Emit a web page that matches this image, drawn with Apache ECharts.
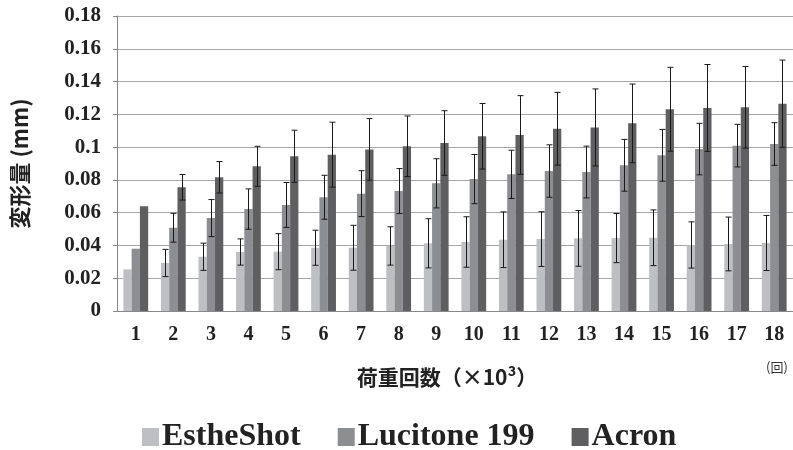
<!DOCTYPE html>
<html>
<head>
<meta charset="utf-8">
<script src="https://cdn.jsdelivr.net/npm/echarts@6/dist/echarts.min.js"></script>
<style>html,body{margin:0;padding:0;background:#fff;}#c{width:793px;height:450px;}</style>
</head>
<body>
<div id="c"></div>
<script>
var categories = ['1','2','3','4','5','6','7','8','9','10','11','12','13','14','15','16','17','18'];
var seriesNames = ['EstheShot', 'Lucitone 199', 'Acron'];
var estheShot = [0.0254,0.0293,0.0331,0.0360,0.0362,0.0386,0.0386,0.0397,0.0413,0.0421,0.0435,0.0439,0.0443,0.0445,0.0447,0.0403,0.0409,0.0415];
var estheShotErr = [0,0.0083,0.0083,0.0080,0.0110,0.0107,0.0137,0.0117,0.0150,0.0154,0.0170,0.0167,0.0170,0.0150,0.0170,0.0141,0.0164,0.0168];
var lucitone = [0.0380,0.0508,0.0567,0.0622,0.0647,0.0694,0.0716,0.0732,0.0779,0.0805,0.0834,0.0854,0.0848,0.0889,0.0950,0.0988,0.1009,0.1019];
var lucitoneErr = [0,0.0088,0.0113,0.0123,0.0137,0.0134,0.0140,0.0137,0.0150,0.0150,0.0147,0.0160,0.0158,0.0158,0.0158,0.0157,0.0130,0.0130];
var acron = [0.0639,0.0755,0.0816,0.0883,0.0944,0.0954,0.0986,0.1005,0.1025,0.1066,0.1074,0.1112,0.1120,0.1145,0.1231,0.1239,0.1243,0.1265];
var acronErr = [0,0.0078,0.0096,0.0122,0.0159,0.0198,0.0188,0.0185,0.0197,0.0200,0.0240,0.0222,0.0235,0.0240,0.0256,0.0265,0.0249,0.0266];
var yTicks = { min: 0, max: 0.18, interval: 0.02 };

var colors = ['#bebfc3', '#8d8e92', '#5f5f61'];
var values = [estheShot, lucitone, acron];
var errors = [estheShotErr, lucitoneErr, acronErr];
var BAR_FRAC = 0.22;

function errSeries(idx) {
  var data = categories.map(function (c, i) { return [i, values[idx][i], errors[idx][i]]; });
  return {
    type: 'custom',
    z: 10,
    silent: true,
    data: data,
    encode: { x: 0, y: 1 },
    renderItem: function (params, api) {
      var e = api.value(2);
      if (!e) return null;
      var x = api.value(0), v = api.value(1);
      var band = api.size([1, 0])[0];
      var off = (idx - 1) * BAR_FRAC * band;
      var hi = api.coord([x, v + e]);
      var lo = api.coord([x, v - e]);
      var cx = Math.round(hi[0] + off) + 0.5;
      var st = { stroke: '#1a1a1a', lineWidth: 1 };
      return {
        type: 'group',
        children: [
          { type: 'line', shape: { x1: cx, y1: hi[1], x2: cx, y2: lo[1] }, style: st },
          { type: 'line', shape: { x1: cx - 3, y1: hi[1], x2: cx + 3, y2: hi[1] }, style: st },
          { type: 'line', shape: { x1: cx - 3, y1: lo[1], x2: cx + 3, y2: lo[1] }, style: st }
        ]
      };
    }
  };
}

var series = [];
seriesNames.forEach(function (n, i) {
  series.push({
    name: n, type: 'bar', data: values[i],
    barWidth: (BAR_FRAC * 100) + '%', barGap: '0%',
    itemStyle: { color: colors[i] }
  });
});
seriesNames.forEach(function (n, i) { series.push(errSeries(i)); });

var chart = echarts.init(document.getElementById('c'), null, { renderer: 'canvas' });
chart.setOption({
  animation: false,
  backgroundColor: '#ffffff',
  grid: { left: 117, right: 0, top: 16, bottom: 139, containLabel: false },
  legend: {
    data: seriesNames,
    left: 137, top: 416,
    itemWidth: 17, itemHeight: 18, itemGap: 37,
    icon: 'rect',
    textStyle: { fontFamily: 'Liberation Serif', fontWeight: 'bold', fontSize: 32, color: '#222', padding: [0, 0, 0, -2] }
  },
  xAxis: {
    type: 'category', data: categories,
    axisLine: { lineStyle: { color: '#888', width: 1 } },
    axisTick: { show: false },
    axisLabel: { margin: 14, fontFamily: 'Liberation Serif', fontWeight: 'bold', fontSize: 20, color: '#222' },
    name: '荷重回数（×10³）', nameLocation: 'middle', nameGap: 56,
    nameTextStyle: { fontFamily: 'Noto Sans CJK JP', fontWeight: 'bold', fontSize: 21, color: '#222', padding: [0, 16, 0, 0] }
  },
  yAxis: {
    type: 'value', min: yTicks.min, max: yTicks.max, interval: yTicks.interval,
    axisLine: { show: true, lineStyle: { color: '#888', width: 1 } },
    axisTick: { show: true, length: 4, lineStyle: { color: '#888' } },
    splitLine: { lineStyle: { color: '#a6a6a6', width: 1 } },
    axisLabel: {
      margin: 16, fontFamily: 'Liberation Serif', fontWeight: 'bold', fontSize: 21, color: '#222',
      formatter: function (v) { return String(parseFloat(v.toFixed(2))); }
    },
    name: '変形量 (mm)', nameLocation: 'middle', nameGap: 86, nameRotate: 90,
    nameTextStyle: { fontFamily: 'Noto Sans CJK JP', fontWeight: 'bold', fontSize: 22, color: '#222' }
  },
  graphic: [{
    type: 'text', left: 766, top: 361,
    style: { text: '(回)', font: '13px "Noto Sans CJK JP"', fill: '#333' }
  }],
  series: series
});
</script>
</body>
</html>
